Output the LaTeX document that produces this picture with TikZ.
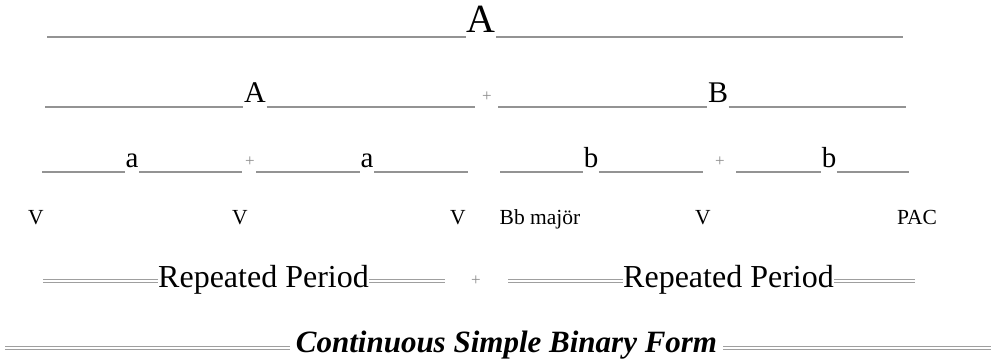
\documentclass[tikz,border=0pt]{standalone}
\usepackage{fontspec}
\setmainfont{Liberation Serif}
\begin{document}
\begin{tikzpicture}[x=1pt,y=-1pt,
  uline/.style={draw=gray!85, line width=1.2pt},
  eqline/.style={draw=gray!75, double=white, double distance=1.5pt, line width=1pt},
  ltr/.style={anchor=base, inner xsep=0.5pt, inner ysep=0pt},
  plus/.style={text=gray!90, inner sep=0pt, font=\fontsize{17}{20}\selectfont},
  lab/.style={anchor=base, inner sep=0pt, font=\fontsize{21.5}{25}\selectfont}]
\useasboundingbox (0,0) rectangle (991,363);

% Riga 1
\node[ltr, font=\fontsize{40}{48}\selectfont] (A1) at (481,33) {A};
\coordinate (r1s) at (47,37);
\coordinate (r1e) at (903,37);
\draw[uline] (r1s) -- (r1s -| A1.west);
\draw[uline] (A1.east |- r1e) -- (r1e);

% Riga 2
\node[ltr, font=\fontsize{30}{36}\selectfont] (A2) at (255,103) {A};
\node[ltr, font=\fontsize{30}{36}\selectfont] (B2) at (718,103) {B};
\node[plus] (p2) at (487,97) {+};
\coordinate (r2s) at (45,107);
\coordinate (r2m) at (475,107);
\coordinate (r2n) at (498,107);
\coordinate (r2e) at (906,107);
\draw[uline] (r2s) -- (r2s -| A2.west);
\draw[uline] (A2.east |- r2m) -- (r2m);
\draw[uline] (r2n) -- (r2n -| B2.west);
\draw[uline] (B2.east |- r2e) -- (r2e);

% Riga 3
\node[ltr, font=\fontsize{29}{34}\selectfont] (a1) at (132,168) {a};
\node[ltr, font=\fontsize{29}{34}\selectfont] (a2) at (367,168) {a};
\node[ltr, font=\fontsize{29}{34}\selectfont] (b1) at (591,168) {b};
\node[ltr, font=\fontsize{29}{34}\selectfont] (b2) at (829,168) {b};
\node[plus] (p3a) at (250,162) {+};
\node[plus] (p3b) at (720,162) {+};
\coordinate (r3s) at (42,172);
\coordinate (r3a) at (242,172);
\coordinate (r3b) at (256,172);
\coordinate (r3c) at (468,172);
\coordinate (r3d) at (500,172);
\coordinate (r3f) at (703,172);
\coordinate (r3g) at (736,172);
\coordinate (r3e) at (909,172);
\draw[uline] (r3s) -- (r3s -| a1.west);
\draw[uline] (a1.east |- r3a) -- (r3a);
\draw[uline] (r3b) -- (r3b -| a2.west);
\draw[uline] (a2.east |- r3c) -- (r3c);
\draw[uline] (r3d) -- (r3d -| b1.west);
\draw[uline] (b1.east |- r3f) -- (r3f);
\draw[uline] (r3g) -- (r3g -| b2.west);
\draw[uline] (b2.east |- r3e) -- (r3e);

% Etichette armoniche
\node[lab] (v1) at (36,225) {V};
\node[lab] (v2) at (240,225) {V};
\node[lab] (v3) at (458,225) {V};
\node[lab] (bb) at (540,225) {Bb majör};
\node[lab] (v4) at (703,225) {V};
\node[lab] (pac) at (917,225) {PAC};

% Periodi
\node[ltr, inner xsep=0pt, font=\fontsize{32}{38}\selectfont] (rp1) at (263.5,288) {Repeated Period};
\node[ltr, inner xsep=0pt, font=\fontsize{32}{38}\selectfont] (rp2) at (728.5,288) {Repeated Period};
\node[plus] (p5) at (476,281) {+};
\coordinate (r5s) at (43,281);
\coordinate (r5a) at (445,281);
\coordinate (r5b) at (508,281);
\coordinate (r5e) at (915,281);
\draw[eqline] (r5s) -- (r5s -| rp1.west);
\draw[eqline] (rp1.east |- r5a) -- (r5a);
\draw[eqline] (r5b) -- (r5b -| rp2.west);
\draw[eqline] (rp2.east |- r5e) -- (r5e);

% Forma
\node[ltr, inner xsep=6pt, font=\fontsize{31}{37}\selectfont\bfseries\itshape] (csb) at (506.5,353) {Continuous Simple Binary Form};
\coordinate (r6s) at (5,348);
\coordinate (r6e) at (991,348);
\draw[eqline] (r6s) -- (r6s -| csb.west);
\draw[eqline] (csb.east |- r6e) -- (r6e);
\end{tikzpicture}
\end{document}
